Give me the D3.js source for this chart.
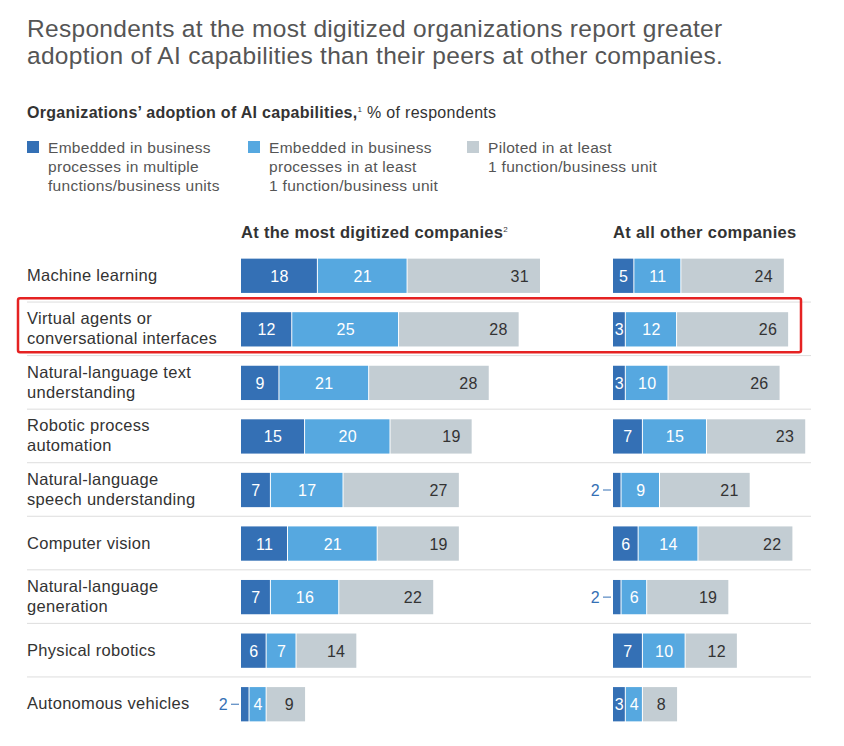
<!DOCTYPE html>
<html><head><meta charset="utf-8">
<script src="https://cdn.jsdelivr.net/npm/d3@7"></script>
<style>body{margin:0;background:#fff;font-family:"Helvetica Neue",Arial,"Liberation Sans",sans-serif}</style>
</head><body><div id="chart"></div>
<script>
const categories = [
  ["Machine learning"],
  ["Virtual agents or", "conversational interfaces"],
  ["Natural-language text", "understanding"],
  ["Robotic process", "automation"],
  ["Natural-language", "speech understanding"],
  ["Computer vision"],
  ["Natural-language", "generation"],
  ["Physical robotics"],
  ["Autonomous vehicles"]
];
const seriesNames = [
  ["Embedded in business", "processes in multiple", "functions/business units"],
  ["Embedded in business", "processes in at least", "1 function/business unit"],
  ["Piloted in at least", "1 function/business unit"]
];
const digitized = [[18,21,31],[12,25,28],[9,21,28],[15,20,19],[7,17,27],[11,21,19],[7,16,22],[6,7,14],[2,4,9]];
const others = [[5,11,24],[3,12,26],[3,10,26],[7,15,23],[2,9,21],[6,14,22],[2,6,19],[7,10,12],[3,4,8]];
const colors = ["#3470b5", "#56a8e0", "#c3cdd3"];

const W = 844, H = 746;
const svg = d3.select("#chart").append("svg").attr("width", W).attr("height", H)
  .style("letter-spacing", "0.3px");
const grey = "#333";

svg.append("text").attr("x", 27).attr("y", 37).attr("font-size", 24.5).attr("fill", "#555")
  .selectAll("tspan").data(["Respondents at the most digitized organizations report greater", "adoption of AI capabilities than their peers at other companies."])
  .join("tspan").attr("x", 27).attr("dy", (d, i) => i ? 27 : 0).text(d => d);

const st = svg.append("text").attr("x", 27).attr("y", 118).attr("font-size", 16).attr("fill", grey);
st.append("tspan").attr("font-weight", "bold").text("Organizations’ adoption of AI capabilities,");
st.append("tspan").attr("font-size", 8).attr("dy", -6).text("1");
st.append("tspan").attr("dy", 6).text(" % of respondents");

const legX = [27, 248, 467];
seriesNames.forEach((s, i) => {
  svg.append("rect").attr("x", legX[i]).attr("y", 141).attr("width", 12).attr("height", 12).attr("fill", colors[i]);
  s.forEach((l, j) => svg.append("text").attr("x", legX[i] + 21).attr("y", 153 + j * 19)
    .attr("font-size", 15.5).attr("fill", "#555").text(l));
});

const h1 = svg.append("text").attr("x", 241).attr("y", 238).attr("font-size", 16.5).attr("font-weight", "bold").attr("fill", grey);
h1.append("tspan").text("At the most digitized companies");
h1.append("tspan").attr("font-size", 8).attr("font-weight", "normal").attr("dy", -6).text("2");
svg.append("text").attr("x", 613).attr("y", 238).attr("font-size", 16.5).attr("font-weight", "bold").attr("fill", grey).text("At all other companies");

const y = d3.scaleBand().domain(d3.range(categories.length)).range([249, 731]).paddingInner(0.36).paddingOuter(0.18);
const step = y.step();
const unit = 299 / 70;
const xL = d3.scaleLinear().domain([0, 70]).range([241, 241 + 70 * unit]);
const xR = d3.scaleLinear().domain([0, 40]).range([613, 613 + 40 * unit]);

categories.forEach((c, i) => {
  if (i > 0) svg.append("line").attr("x1", 27).attr("x2", 811).attr("y1", y(i) - step * y.paddingInner() / 2 - 0.5)
    .attr("y2", y(i) - step * y.paddingInner() / 2 - 0.5).attr("stroke", "#ddd");
  const cy = y(i) + y.bandwidth() / 2;
  const t = svg.append("text").attr("font-size", 16.5).attr("fill", grey);
  c.forEach((l, j) => t.append("tspan").attr("x", 27).attr("y", cy + 5 + (j - (c.length - 1) / 2) * 20).text(l));
});

function panel(data, x) {
  data.forEach((row, i) => {
    let acc = 0;
    row.forEach((v, k) => {
      const x0 = x(acc), x1 = x(acc + v);
      acc += v;
      svg.append("rect").attr("x", x0).attr("y", y(i)).attr("width", x1 - x0 - (k < 2 ? 1 : 0))
        .attr("height", y.bandwidth()).attr("fill", colors[k]);
      const cy = y(i) + y.bandwidth() / 2 + 6;
      if (v === 2 && k === 0) {
        svg.append("line").attr("x1", x0 - 10).attr("x2", x0 - 2).attr("y1", cy - 6).attr("y2", cy - 6).attr("stroke", colors[0]);
        svg.append("text").attr("x", x0 - 13).attr("y", cy).attr("text-anchor", "end").attr("font-size", 16).attr("fill", colors[0]).text(v);
      } else if (k === 2) {
        svg.append("text").attr("x", x1 - 11).attr("y", cy).attr("text-anchor", "end")
          .attr("font-size", 16).attr("fill", grey).text(v);
      } else {
        svg.append("text").attr("x", (x0 + x1) / 2).attr("y", cy).attr("text-anchor", "middle")
          .attr("font-size", 16).attr("fill", "#fff").text(v);
      }
    });
  });
}
panel(digitized, xL);
panel(others, xR);

svg.append("rect").attr("x", 18).attr("y", y(1) - 14).attr("width", 783).attr("height", 54)
  .attr("fill", "none").attr("stroke", "#e52222").attr("stroke-width", 2.5).attr("rx", 2);
</script></body></html>
